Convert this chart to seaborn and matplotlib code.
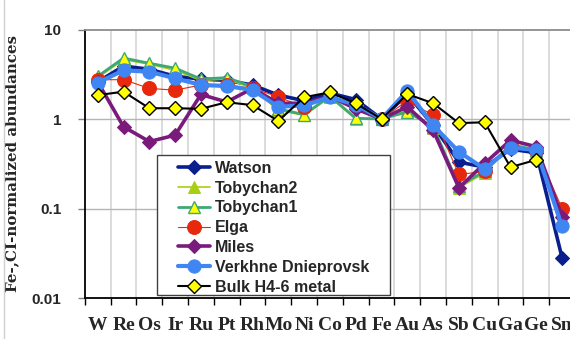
import numpy as np
import pandas as pd
import matplotlib
matplotlib.use("Agg")
import matplotlib.pyplot as plt
import seaborn as sns
from matplotlib.lines import Line2D
from matplotlib.patches import Rectangle

elements = ["W", "Re", "Os", "Ir", "Ru", "Pt", "Rh", "Mo", "Ni", "Co",
            "Pd", "Fe", "Au", "As", "Sb", "Cu", "Ga", "Ge", "Sn"]

watson = [2.6, 3.9, 3.6, 3.0, 2.8, 2.7, 2.4, 1.85, 1.6, 1.95, 1.65, 1.0, 1.9, 0.85, 0.33, 0.29, 0.46, 0.42, 0.028]
tobychan2 = [2.9, 4.6, 4.1, 3.5, 2.7, 2.8, 2.2, 1.25, 1.1, 1.75, 1.0, 1.0, 1.25, 0.8, 0.17, 0.25, 0.5, 0.44, 0.075]
tobychan1 = [3.0, 4.8, 4.2, 3.7, 2.8, 2.9, 2.3, 1.3, 1.12, 1.8, 1.02, 1.0, 1.2, 0.82, 0.18, 0.26, 0.52, 0.45, 0.078]
elga = [2.75, 2.75, 2.2, 2.1, 2.4, 2.4, 2.2, 1.77, 1.35, 1.85, 1.4, 1.0, 1.6, 1.1, 0.24, 0.26, 0.5, 0.45, 0.10]
miles = [2.6, 0.82, 0.56, 0.66, 1.88, 1.55, 2.2, 1.5, 1.5, 1.8, 1.3, 1.0, 1.37, 0.75, 0.17, 0.32, 0.58, 0.49, 0.081]
verkhne = [2.55, 3.5, 3.38, 2.85, 2.4, 2.34, 2.11, 1.37, 1.42, 1.75, 1.45, 1.0, 2.07, 0.85, 0.43, 0.276, 0.48, 0.45, 0.063]
bulk = [1.85, 2.02, 1.32, 1.32, 1.3, 1.54, 1.43, 0.95, 1.75, 1.99, 1.5, 1.0, 1.9, 1.5, 0.9, 0.92, 0.29, 0.35, np.nan]

ytick_vals = [0.01, 0.1, 1, 10]
ytick_labels = ["0.01", "0.1", "1", "10"]

series = [
    ("Watson", watson, dict(color="#0B1E8E", marker="D", markersize=7, linewidth=2.6,
                            markerfacecolor="#0B1E8E", markeredgecolor="#0B1E8E")),
    ("Tobychan2", tobychan2, dict(color="#A9CF12", marker="^", markersize=9, linewidth=1.2,
                                  markerfacecolor="#A9CF12", markeredgecolor="#A9CF12")),
    ("Tobychan1", tobychan1, dict(color="#3FA878", marker="^", markersize=9, linewidth=2.0,
                                  markerfacecolor="#FFFF00", markeredgecolor="#3FA878", markeredgewidth=1.0)),
    ("Elga", elga, dict(color="#E8280C", marker="o", markersize=10, linewidth=0.8,
                        markerfacecolor="#E8280C", markeredgecolor="#E8280C")),
    ("Miles", miles, dict(color="#7A1B7C", marker="D", markersize=7, linewidth=2.6,
                          markerfacecolor="#7A1B7C", markeredgecolor="#7A1B7C")),
    ("Verkhne Dnieprovsk", verkhne, dict(color="#3F86F2", marker="o", markersize=9.5, linewidth=3.0,
                                         markerfacecolor="#3F86F2", markeredgecolor="#3F86F2")),
    ("Bulk H4-6 metal", bulk, dict(color="#000000", marker="D", markersize=7.5, linewidth=1.5,
                                   markerfacecolor="#FFFF00", markeredgecolor="#000000", markeredgewidth=1.0)),
]

sns.set_style("white")

fig = plt.figure(figsize=(5.7, 3.39), dpi=100)
ax = fig.add_axes([0.1488, 0.1209, 0.860, 0.792])

xpos = np.arange(len(elements))
for i, (name, vals, kw) in enumerate(series):
    df = pd.DataFrame({"x": xpos, "y": vals})
    sns.lineplot(data=df, x="x", y="y", ax=ax, label=name, zorder=2 + i * 0.1, **kw)

ax.set_yscale("log")
ax.set_ylim(0.01, 10)
ax.set_xlim(-0.5, len(elements) - 0.5)
ax.set_yticks(ytick_vals)
ax.set_yticklabels(ytick_labels, fontfamily="Liberation Sans", fontweight="bold", fontsize=11)
ax.yaxis.set_minor_locator(matplotlib.ticker.NullLocator())
ax.tick_params(axis="y", which="major", length=5, width=1, color="#808080", pad=12, left=True)

ax.set_xticks(xpos)
ax.set_xticklabels(elements, fontfamily="Liberation Serif", fontweight="bold", fontsize=14)
ax.set_xticks(np.arange(-0.5, len(elements), 1), minor=True)
ax.tick_params(axis="x", which="major", length=0, pad=14)
ax.tick_params(axis="x", which="minor", length=5, width=1, color="#000000", bottom=True)

ax.set_xlabel("")
ax.set_ylabel("Fe-,CI-normalized abundances", fontfamily="DejaVu Serif",
              fontweight="bold", fontsize=10.8)
ax.yaxis.set_label_coords(-0.133, 0.5)

# grid lines
for gx in np.arange(0.5, len(elements) - 0.5, 1):
    ax.axvline(gx, color="#D9D9D9", linewidth=1.3, zorder=0)
for gy in [0.1, 1]:
    ax.axhline(gy, color="#B5B5B5", linewidth=1.0, zorder=0.5)

for s in ["left", "bottom"]:
    ax.spines[s].set_color("#000000")
    ax.spines[s].set_linewidth(1.3)
ax.spines["top"].set_color("#8C8C8C")
ax.spines["top"].set_linewidth(1.3)
ax.spines["right"].set_visible(False)

# legend box
ax.add_patch(Rectangle((0.1473, 0.011), 0.4753, 0.5216, transform=ax.transAxes,
                       facecolor="white", edgecolor="#404040", linewidth=1.0, zorder=5))
leg = ax.legend(loc="upper left", bbox_to_anchor=(0.19, 0.511), frameon=False,
                borderpad=0, borderaxespad=0, handlelength=2.0, handletextpad=0.3,
                labelspacing=0.3, prop=dict(family="Liberation Sans", weight="bold", size=11.5))
leg.set_zorder(6)

fig.add_artist(Line2D([4 / 570, 4 / 570], [0, 1], transform=fig.transFigure,
                      color="#D0D0D0", linewidth=1.0))

fig.savefig("out.png", dpi=100)
